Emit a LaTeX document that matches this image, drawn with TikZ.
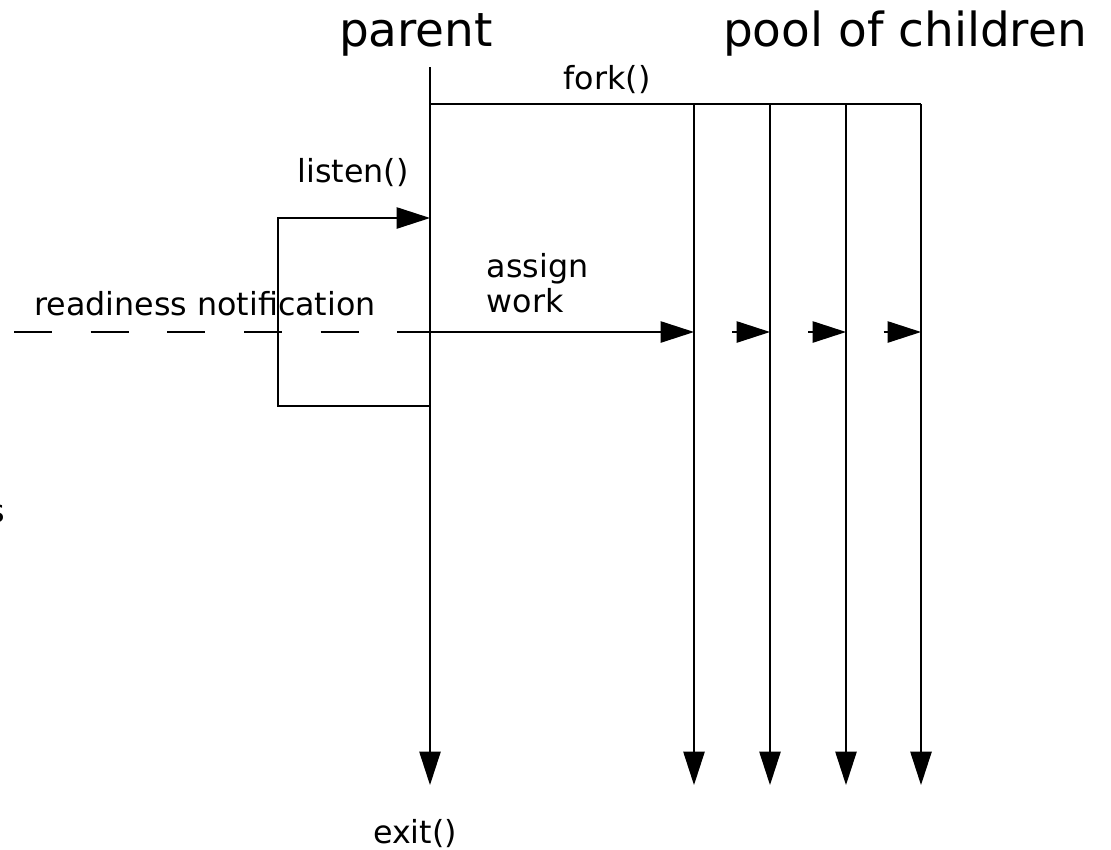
\documentclass[tikz,border=0pt]{standalone}
\usepackage{fontspec}
\setmainfont{DejaVu Sans}
\usetikzlibrary{arrows.meta,calc}
\tikzset{
  flow/.style={-{Triangle[length=25pt,width=16pt]}},
  small/.style={font=\fontsize{23.8}{26.25}\selectfont},
  big/.style={font=\fontsize{35.2}{40}\selectfont},
}
\begin{document}
\begin{tikzpicture}[x=0.75pt,y=-0.75pt,line width=1pt]
\useasboundingbox (0,0) rectangle (1111,850);
\node[big,anchor=base] (parent) at (416,46) {parent};
\node[big,anchor=base] (pool) at (905,46) {pool of children};
\coordinate (ptop) at (430,67);
\coordinate (pbot) at (430,785);
\coordinate (fork) at (430,104);
\draw[flow] (ptop) -- (pbot);
\draw (fork) -- (921,104) coordinate (forkend);
\node[small,anchor=base] (forklabel) at (607,89) {fork()};
\foreach \i/\x in {1/694,2/770,3/846,4/921}{
  \coordinate (c\i top) at (\x,104);
  \coordinate (c\i) at (\x,332);
  \coordinate (c\i bot) at (\x,785);
  \draw[flow] (c\i top) -- (c\i bot);
}
% listen loop
\coordinate (lb) at (430,406);
\coordinate (lc) at (278,218);
\coordinate (lt) at (430,218);
\draw[flow] (lb) -| (lc) -- (lt);
\node[small,anchor=base] (listen) at (353,182) {listen()};
% readiness
\coordinate (rd) at (14,332);
\coordinate (pr) at (430,332);
\draw[dash pattern=on 28.5pt off 29pt] (rd) -- (pr);
\draw[flow] (pr) -- (c1);
\foreach \a/\b in {1/2,2/3,3/4}
  \draw[flow] ($(c\a)!.5!(c\b)$) -- (c\b);
\node[small,anchor=base] (ready) at (205,315) {readiness notification};
\node[small,anchor=base west,align=left,inner sep=0pt] (assign) at (486,312) {assign\\work};
\node[small,anchor=base] (exit) at (415,843) {exit()};
\node[small,anchor=base east,inner sep=0pt] (cut) at (6,522) {s};
\end{tikzpicture}
\end{document}
